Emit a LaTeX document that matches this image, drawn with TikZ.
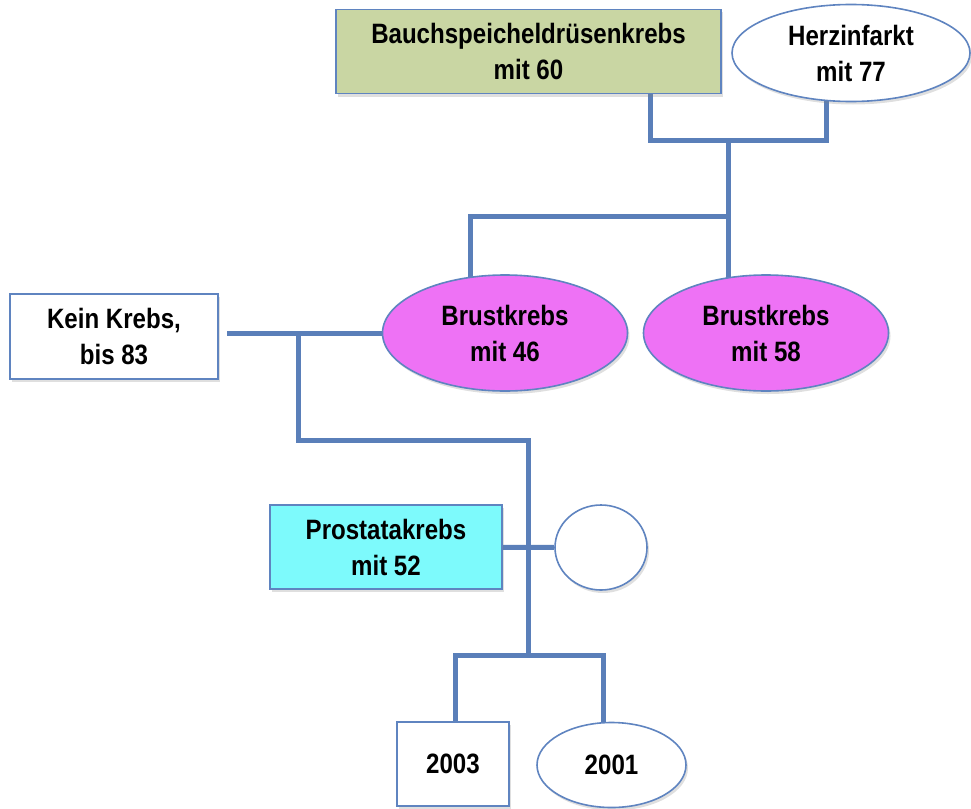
\documentclass[tikz,border=0pt]{standalone}
\usepackage{fontspec}
\setmainfont{Liberation Sans}[FakeStretch=0.86]
\usetikzlibrary{shapes.geometric,shadows,backgrounds}
\definecolor{linkblue}{RGB}{90,127,185}
\definecolor{edgeblue}{RGB}{95,132,192}
\definecolor{olivefill}{RGB}{201,214,163}
\definecolor{pinkfill}{RGB}{238,114,245}
\definecolor{cyanfill}{RGB}{125,250,252}
\begin{document}
\begin{tikzpicture}[x=1pt,y=-1pt,
  person/.style={draw=edgeblue, line width=1.6pt, align=center, inner sep=0pt,
    font=\bfseries\fontsize{28}{36}\selectfont,
    drop shadow={shadow xshift=2pt, shadow yshift=-3pt, opacity=0.25}},
  male/.style={person, rectangle},
  female/.style={person, ellipse},
  conn/.style={draw=linkblue, line width=5pt}]
\useasboundingbox (0,0) rectangle (971,808);

% nodes
\node[male, fill=olivefill, minimum width=385pt, minimum height=84pt] (bauch) at (528.5,51.5) {Bauchspeicheldrüsenkrebs\\mit 60};
\node[female, fill=white, minimum width=238pt, minimum height=97pt] (herz) at (851,53) {Herzinfarkt\\mit 77};
\node[female, fill=pinkfill, minimum width=245pt, minimum height=116pt] (brust46) at (505,333) {\raisebox{-4pt}{Brustkrebs}\\\raisebox{-4pt}{mit 46}};
\node[female, fill=pinkfill, minimum width=245pt, minimum height=116pt] (brust58) at (766,333) {\raisebox{-4pt}{Brustkrebs}\\\raisebox{-4pt}{mit 58}};
\node[male, fill=white, minimum width=208pt, minimum height=85pt] (kein) at (114,336.5) {Kein Krebs,\\bis 83};
\node[male, fill=cyanfill, minimum width=232pt, minimum height=84pt] (prost) at (386,547) {Prostatakrebs\\mit 52};
\node[female, fill=white, minimum width=92pt, minimum height=85pt] (circ) at (601,547.5) {};
\node[male, fill=white, minimum width=112pt, minimum height=84pt] (y2003) at (453,764) {2003};
\node[female, fill=white, minimum width=149pt, minimum height=85pt] (y2001) at (611.5,765) {2001};

% junction points
\coordinate (b1) at (650,140);
\coordinate (h1) at (826,140);
\coordinate (j1) at (728,140);
\coordinate (j2) at (728,216);
\coordinate (c46) at (470,216);
\coordinate (k1) at (227,333);
\coordinate (k2) at (298,333);
\coordinate (k3) at (298,440);
\coordinate (k4) at (528,440);
\coordinate (k5) at (528,655);
\coordinate (c1) at (455,655);
\coordinate (c2) at (603,655);

\begin{scope}[on background layer]
\draw[conn] (bauch -| b1) -- (b1) -- (h1) -- (herz -| h1);
\draw[conn] (j1) -- (j2) -- (brust58 -| j2);
\draw[conn] (j2) -- (c46) -- (brust46 -| c46);
\draw[conn] (k1) -- (brust46.center |- k1);
\draw[conn] (k2) -- (k3) -- (k4) -- (k5);
\draw[conn] (prost) -- (circ);
\draw[conn] (y2003 -| c1) -- (c1) -- (c2) -- (y2001 -| c2);
\end{scope}
\end{tikzpicture}
\end{document}
